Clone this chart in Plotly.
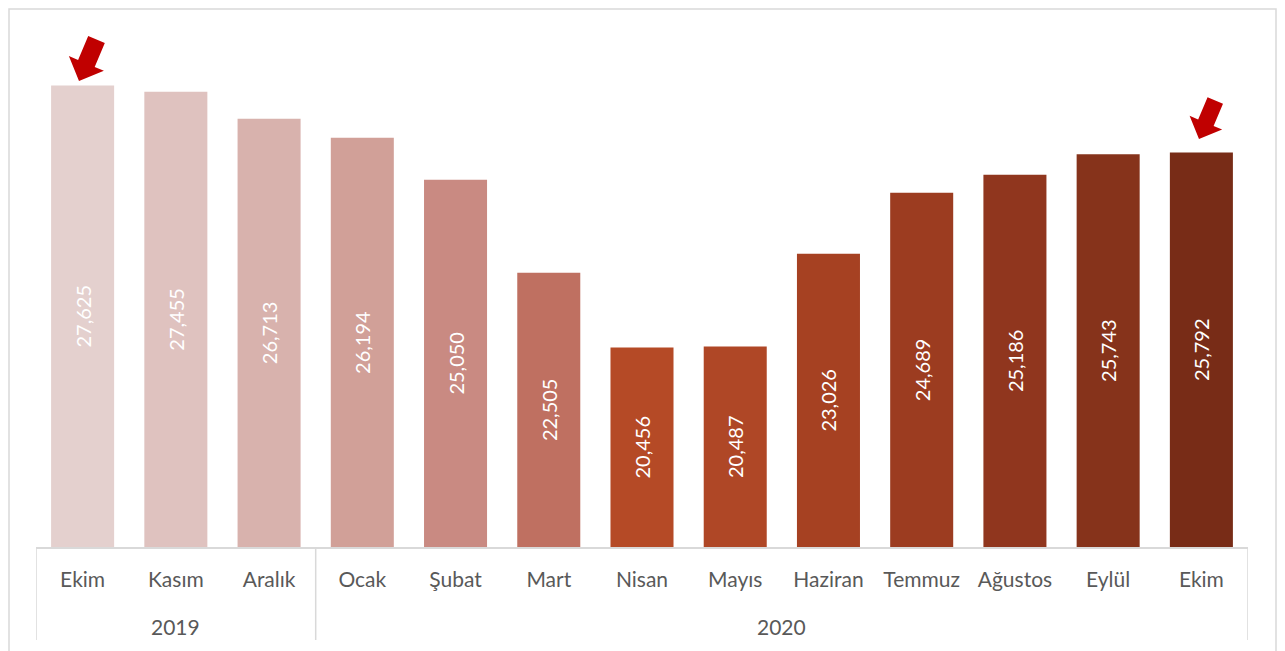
import plotly.graph_objects as go

# data
years = ["2019", "2020"]
year_counts = [3, 10]
months = ["Ekim", "Kasım", "Aralık", "Ocak", "Şubat", "Mart", "Nisan",
          "Mayıs", "Haziran", "Temmuz", "Ağustos", "Eylül", "Ekim"]
values = [27625, 27455, 26713, 26194, 25050, 22505, 20456,
          20487, 23026, 24689, 25186, 25743, 25792]
bar_colors = ["#E4D0CE", "#DFC2BF", "#D8B2AD", "#D1A098", "#C98A82", "#BF7061", "#B54A26",
              "#AF4726", "#A64122", "#9C3C20", "#90361E", "#86331B", "#782C17"]

Y_MIN, Y_MAX = 15000, 29500

# the page body has an 8px margin, so work in window pixels and shift
OFF = 8
W, H = 1285 - OFF, 651 - OFF
PLOT_L, PLOT_R, PLOT_T, PLOT_B = 36, 1248, 17, 547   # window pixels
ML, MT = PLOT_L - OFF, PLOT_T - OFF
MR, MB = W - (PLOT_R - OFF), H - (PLOT_B - OFF)
PW, PH = PLOT_R - PLOT_L, PLOT_B - PLOT_T

FONT = "Lato"
GRAY = "#595959"
LINE = "#D9D9D9"


def to_paper(x, y):
    """window pixel -> paper coords"""
    return (x - PLOT_L) / PW, (PLOT_B - y) / PH


def block_arrow(tip_x, tip_y, scale=1.0):
    """red block arrow pointing down-left, tip at window pixel (tip_x, tip_y)"""
    ux, uy = 0.389, -0.922   # tip -> tail
    vx, vy = 0.922, 0.389    # perpendicular
    L, hl, hw, sw = 45 * scale, 19 * scale, 19 * scale, 9 * scale
    pts = [
        (0, 0),
        (ux * hl + vx * hw, uy * hl + vy * hw),
        (ux * hl + vx * sw, uy * hl + vy * sw),
        (ux * L + vx * sw, uy * L + vy * sw),
        (ux * L - vx * sw, uy * L - vy * sw),
        (ux * hl - vx * sw, uy * hl - vy * sw),
        (ux * hl - vx * hw, uy * hl - vy * hw),
    ]
    path = ""
    for i, (dx, dy) in enumerate(pts):
        px, py = to_paper(tip_x + dx, tip_y + dy)
        path += ("M" if i == 0 else "L") + f"{px:.5f},{py:.5f} "
    return dict(type="path", xref="paper", yref="paper", path=path + "Z",
                fillcolor="#C00000", line=dict(width=0), layer="above")


xs = list(range(len(months)))

# bars start at the visible axis minimum so labels sit in the middle of the visible part
fig = go.Figure(go.Bar(
    x=xs,
    y=[v - Y_MIN for v in values],
    base=Y_MIN,
    marker=dict(color=bar_colors, line=dict(width=0)),
    text=[f"{v:,}" for v in values],
    textposition="inside",
    insidetextanchor="middle",
    textangle=-90,
    textfont=dict(family=FONT, size=20, color="white"),
    constraintext="none",
    hoverinfo="skip",
))

# outer frame (kept just inside the figure so it is visible)
fx0, fy0 = to_paper(9, 9)
fx1, fy1 = to_paper(1276, 700)
shapes = [dict(type="rect", xref="paper", yref="paper", x0=fx0, y0=fy1, x1=fx1, y1=fy0,
               line=dict(color=LINE, width=1.5), layer="below")]

# year group dividers + labels
_, div_bottom = to_paper(0, 640)
_, year_y = to_paper(0, 626)
annotations = []
start = 0
bounds = [-0.5]
for yr, n in zip(years, year_counts):
    annotations.append(dict(x=start + (n - 1) / 2, y=year_y, xref="x", yref="paper",
                            text=yr, showarrow=False, yanchor="middle",
                            font=dict(family=FONT, size=21, color=GRAY)))
    start += n
    bounds.append(start - 0.5)
for b in bounds:
    shapes.append(dict(type="line", xref="x", yref="paper", x0=b, x1=b, y0=0, y1=div_bottom,
                       line=dict(color=LINE, width=1.5)))

shapes.append(block_arrow(79, 81))
shapes.append(block_arrow(1199, 139, 0.93))

fig.update_layout(
    width=W, height=H,
    margin=dict(l=ML, r=MR, t=MT, b=MB, autoexpand=False),
    paper_bgcolor="white", plot_bgcolor="white",
    bargap=0.324,
    showlegend=False,
    shapes=shapes,
    annotations=annotations,
    font=dict(family=FONT, size=20, color=GRAY),
    uniformtext=dict(minsize=20, mode="show"),
)
fig.update_xaxes(
    range=[-0.5, len(months) - 0.5],
    tickvals=xs, ticktext=months,
    showline=True, linecolor=LINE, linewidth=1.5,
    ticks="", showgrid=False, zeroline=False,
    ticklabelstandoff=13,
    tickfont=dict(family=FONT, size=21, color=GRAY),
)
fig.update_yaxes(range=[Y_MIN, Y_MAX], visible=False, showgrid=False)

fig.write_html("out.html")
